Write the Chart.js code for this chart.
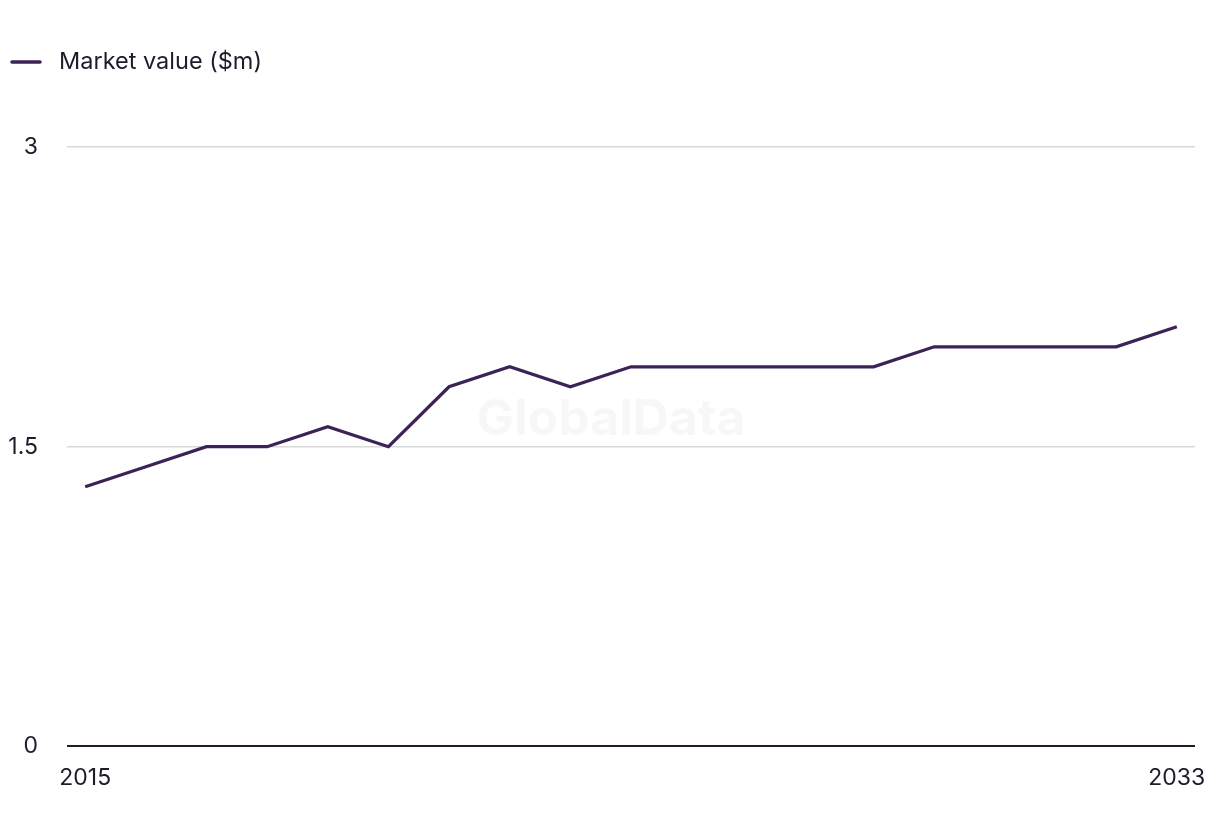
<!DOCTYPE html>
<html>
<head>
<meta charset="utf-8">
<script src="https://cdn.jsdelivr.net/npm/chart.js@4/dist/chart.umd.min.js"></script>
<style>
  html, body { margin: 0; padding: 0; background: #fff; }
  #wrap { width: 1220px; height: 836px; position: relative; }
</style>
</head>
<body>
<div id="wrap"><canvas id="marketChart"></canvas></div>
<script>
// data
const years = [2015, 2016, 2017, 2018, 2019, 2020, 2021, 2022, 2023, 2024,
               2025, 2026, 2027, 2028, 2029, 2030, 2031, 2032, 2033];
const marketValue = [1.3, 1.4, 1.5, 1.5, 1.6, 1.5, 1.8, 1.9, 1.8, 1.9,
                     1.9, 1.9, 1.9, 1.9, 2.0, 2.0, 2.0, 2.0, 2.1];
const yTicks = [0, 1.5, 3];
const xTicks = [2015, 2033];
const seriesLabel = 'Market value ($m)';

const lineColour = '#3b2357';
const textColour = '#1c1c2b';
const fontFamily = 'Inter, "Noto Sans", sans-serif';

// legend + watermark drawn by hand so spacing matches
const extras = {
  id: 'extras',
  beforeDatasetsDraw(chart) {
    const c = chart.ctx;
    c.save();
    c.font = 'bold 50px ' + fontFamily;
    c.fillStyle = 'rgba(0,0,0,0.03)';
    c.textAlign = 'center';
    c.textBaseline = 'middle';
    c.fillText('GlobalData', 611, 420);
    c.restore();
  },
  afterDraw(chart) {
    const c = chart.ctx;
    c.save();
    c.strokeStyle = lineColour;
    c.lineWidth = 3.5;
    c.lineCap = 'round';
    c.beginPath();
    c.moveTo(12, 62);
    c.lineTo(40, 62);
    c.stroke();
    c.font = '23.5px ' + fontFamily;
    c.fillStyle = textColour;
    c.textBaseline = 'middle';
    c.fillText(seriesLabel, 59, 62);
    c.restore();
  }
};

const ctx = document.getElementById('marketChart').getContext('2d');
const chart = new Chart(ctx, {
  type: 'line',
  data: {
    datasets: [{
      label: seriesLabel,
      data: years.map((y, i) => ({ x: y, y: marketValue[i] })),
      borderColor: lineColour,
      borderWidth: 3.2,
      pointRadius: 0,
      tension: 0,
      fill: false
    }]
  },
  options: {
    responsive: true,
    maintainAspectRatio: false,
    animation: false,
    layout: { padding: { top: 147, right: 25, bottom: 26, left: 0 } },
    plugins: {
      legend: { display: false },
      tooltip: { enabled: false }
    },
    scales: {
      x: {
        type: 'linear',
        min: 2014.7,
        max: 2033.3,
        afterBuildTicks: (axis) => { axis.ticks = xTicks.map(v => ({ value: v })); },
        // labels sit inside the range, so no extra edge room is needed
        afterFit: (axis) => { axis.paddingLeft = 0; axis.paddingRight = 0; },
        grid: { display: false, drawTicks: false },
        border: { display: false },
        ticks: {
          padding: 18,
          maxRotation: 0,
          autoSkip: false,
          color: textColour,
          font: { family: fontFamily, size: 23 },
          callback: (v) => String(v)
        }
      },
      y: {
        min: 0,
        max: 3,
        afterBuildTicks: (axis) => { axis.ticks = yTicks.map(v => ({ value: v })); },
        afterFit: (axis) => { axis.width = 67; },
        grid: {
          drawTicks: false,
          color: (c) => c.tick && c.tick.value === 0 ? '#1c1c2b' : '#d9d9d9',
          lineWidth: (c) => c.tick && c.tick.value === 0 ? 2 : 1.5
        },
        border: { display: false },
        ticks: {
          padding: 29,
          color: textColour,
          font: { family: fontFamily, size: 23 },
          callback: (v) => String(v)
        }
      }
    }
  },
  plugins: [extras]
});
</script>
</body>
</html>
